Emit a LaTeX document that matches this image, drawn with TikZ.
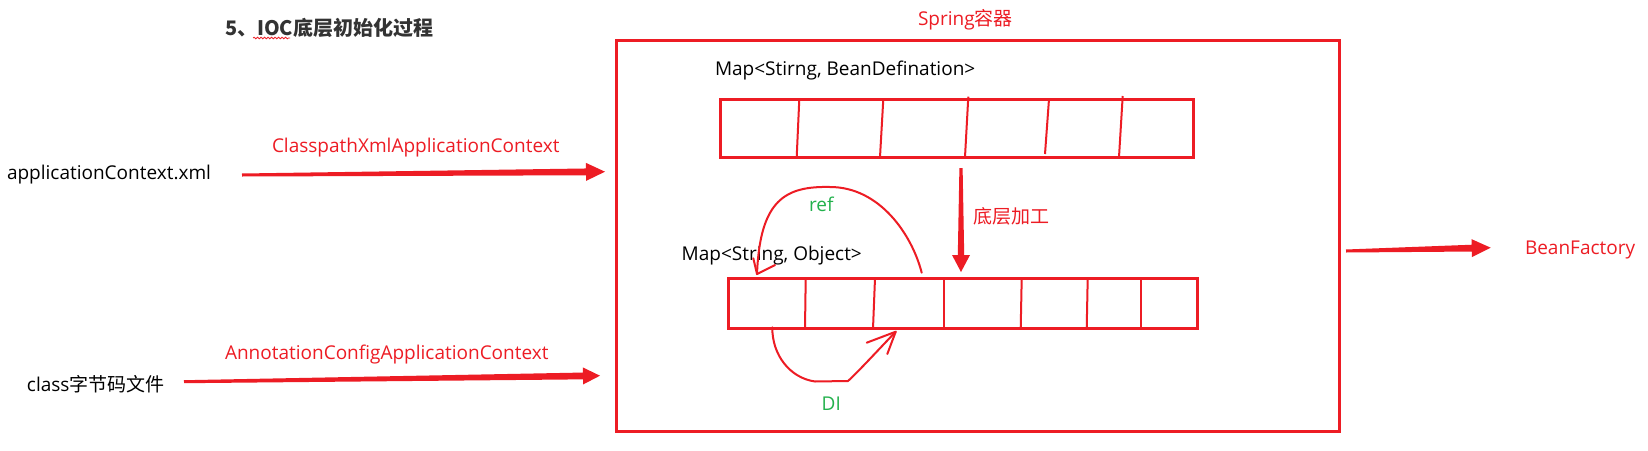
\documentclass[tikz,border=0pt]{standalone}
\usepackage{fontspec}
\setmainfont{Open Sans}
\newfontfamily\cjk{Noto Sans CJK SC}
\usetikzlibrary{calc,decorations.pathmorphing}
\definecolor{red0}{RGB}{237,28,36}
\definecolor{green0}{RGB}{34,177,76}
\definecolor{title0}{RGB}{51,51,51}
\newcommand{\taperarrow}[6]{% start, end, half w0, half w1, head length, half head width
  \path ($(#2)!#5!(#1)$) coordinate (hb);
  \fill[red0] ($(#1)!#3!90:(#2)$) -- ($(hb)!#4!90:(#2)$) -- ($(hb)!#6!90:(#2)$) -- (#2)
    -- ($(hb)!#6!-90:(#2)$) -- ($(hb)!#4!-90:(#2)$) -- ($(#1)!#3!-90:(#2)$) -- cycle;
}
\begin{document}
\begin{tikzpicture}[x=1pt,y=-1pt,
  lbl/.style={font=\fontsize{19}{21}\selectfont, inner sep=0pt, outer sep=0pt, anchor=base west},
  redlbl/.style={lbl, text=red0},
  greenlbl/.style={lbl, text=green0},
  boxst/.style={draw=red0, line width=3pt, inner sep=0pt, outer sep=0pt},
  divst/.style={draw=red0, line width=2pt},
  hand/.style={draw=red0, line width=2pt, line cap=round, line join=round}]
\useasboundingbox (0,0) rectangle (1648,450);
\fill[white] (0,0) rectangle (1648,450);

% title
\node[lbl, text=title0, font=\cjk\bfseries\fontsize{20}{22}\selectfont] (title) at (225,35) {5、IOC底层初始化过程};
\draw[red0, line width=0.8pt, decorate, decoration={snake, amplitude=0.8pt, segment length=3.5pt}] (253,38) -- (290,38);

% container
\node[redlbl] (spring) at (918,25) {Spring{\cjk 容器}};
\node[boxst, minimum width=723pt, minimum height=391pt] (box) at (977.5,235.5) {};

% top map
\node[lbl] (mapbd) at (715,75) {Map<Stirng, BeanDefination>};
\node[boxst, minimum width=473pt, minimum height=58pt] (arrtop) at (956.5,128) {};
\draw[divst] (799.3,99) -- (796.7,157);
\draw[divst] (883.3,99) -- (880,157);
\draw[divst] (968.3,96.7) -- (965,157);
\draw[divst] (1049,99) -- (1045,154);
\draw[divst] (1122.7,96) -- (1119,157);

% bottom map
\node[lbl] (mapso) at (681.7,260) {Map<String, Object>};
\node[boxst, minimum width=469pt, minimum height=50pt] (arrbot) at (962.5,303.4) {};
\draw[divst] (805.7,278.3) -- (805,328.5);
\draw[divst] (875,278.3) -- (873,328.5);
\draw[divst] (944,278.3) -- (944,328.5);
\draw[divst] (1021.7,278.3) -- (1020.7,328.5);
\draw[divst] (1087.7,278.3) -- (1086.7,328.5);
\draw[divst] (1140.7,278.3) -- (1140.7,328.5);

% processing arrow
\coordinate (dns) at (961,168);
\coordinate (dne) at (961,272);
\taperarrow{dns}{dne}{1.6pt}{3.2pt}{17pt}{9pt}
\node[lbl, text=red0, anchor=west] (proc) at (973,216) {\cjk 底层加工};

% ref curve
\coordinate (refs) at (921.7,272.7);
\coordinate (reftop) at (830,187);
\coordinate (refe) at (757,274);
\draw[hand] (refs) .. controls (912,235) and (880,187) .. (reftop)
  .. controls (785,186) and (760,200) .. (refe);
\draw[hand] (753.3,258.3) -- (refe) -- (775,265);
\node[greenlbl] (ref) at (809,211) {ref};

% DI curve
\coordinate (dis) at (772.3,327.3);
\coordinate (dib1) at (815,381.5);
\coordinate (dib2) at (848,381);
\coordinate (die) at (895.7,331.7);
\draw[hand] (dis) .. controls (772,355) and (790,378) .. (dib1) -- (dib2)
  .. controls (858,372) and (880,348) .. (die);
\draw[hand] (866.7,342.7) -- (die) -- (887.3,354);
\node[greenlbl] (di) at (821.7,410) {DI};

% left inputs
\node[lbl] (appxml) at (7,179.3) {applicationContext.xml};
\node[redlbl] (cpx) at (272,152.3) {ClasspathXmlApplicationContext};
\coordinate (a1s) at (242,175);
\coordinate (a1e) at (605,171.7);
\taperarrow{a1s}{a1e}{1.5pt}{3.4pt}{19pt}{9pt}

\node[lbl] (classfile) at (27,391.7) {class{\cjk 字节码文件}};
\node[redlbl] (acac) at (225,359.3) {AnnotationConfigApplicationContext};
\coordinate (a2s) at (184,381.7);
\coordinate (a2e) at (600,375.7);
\taperarrow{a2s}{a2e}{1.5pt}{3.4pt}{17pt}{8.5pt}

% output
\coordinate (a3s) at (1346,251);
\coordinate (a3e) at (1490.7,247.7);
\taperarrow{a3s}{a3e}{1.5pt}{3.4pt}{19pt}{9pt}
\node[redlbl] (bf) at (1525,254) {BeanFactory};
\end{tikzpicture}
\end{document}
